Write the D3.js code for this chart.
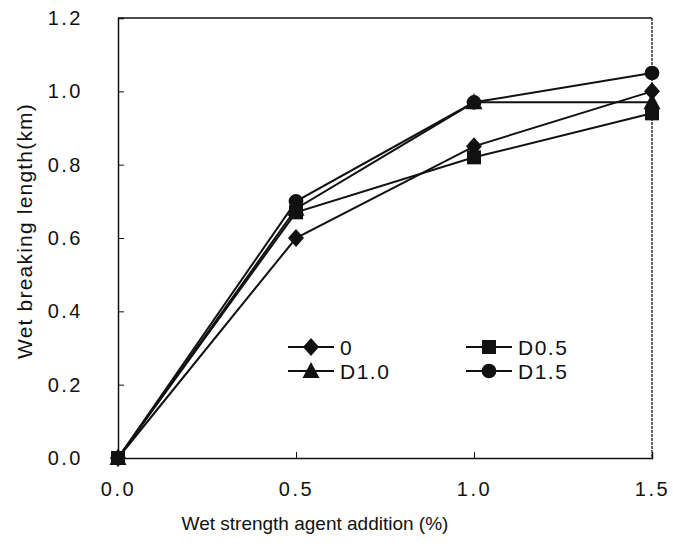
<!DOCTYPE html>
<html><head><meta charset="utf-8">
<script src="https://cdn.jsdelivr.net/npm/d3@7"></script>
<style>body{margin:0;background:#fff}svg{display:block}text{font-family:"Liberation Sans",Arial,sans-serif;fill:#111}</style>
</head><body>
<script>
const xValues = [0, 0.5, 1.0, 1.5];
const seriesNames = ["0", "D0.5", "D1.0", "D1.5"];
const seriesSymbols = ["diamond", "square", "triangle", "circle"];
const s0 = [0, 0.60, 0.85, 1.00];
const sD05 = [0, 0.67, 0.82, 0.94];
const sD10 = [0, 0.68, 0.97, 0.97];
const sD15 = [0, 0.70, 0.97, 1.05];
const seriesValues = [s0, sD05, sD10, sD15];
const xTicks = [0, 0.5, 1.0, 1.5];
const yTicks = [0, 0.2, 0.4, 0.6, 0.8, 1.0, 1.2];

const W = 673, H = 554;
const svg = d3.select("body").append("svg").attr("width", W).attr("height", H);
const x = d3.scaleLinear().domain([0, 1.5]).range([118, 652]);
const y = d3.scaleLinear().domain([0, 1.2]).range([458, 18]);

// frame
svg.append("line").attr("x1",118).attr("x2",652).attr("y1",18).attr("y2",18).attr("stroke","#111").attr("stroke-width",1.5);
svg.append("line").attr("x1",652).attr("x2",652).attr("y1",18).attr("y2",458).attr("stroke","#111").attr("stroke-width",1.3).attr("stroke-dasharray","3,1");

const yAxis = d3.axisLeft(y).tickValues(yTicks).tickFormat(d3.format(".1f")).tickSize(-6).tickPadding(34);
const gy = svg.append("g").attr("transform","translate(118,0)").call(yAxis);
gy.select(".domain").attr("stroke","#111").attr("stroke-width",1.5);
gy.selectAll(".tick line").attr("stroke","#111");
gy.selectAll(".tick text").attr("font-size",20).attr("letter-spacing","2.5px").attr("text-anchor","end").attr("x",-35);

const xAxis = d3.axisBottom(x).tickValues(xTicks).tickFormat(d3.format(".1f")).tickSize(-6).tickPadding(24);
const gx = svg.append("g").attr("transform","translate(0,458)").call(xAxis);
gx.select(".domain").attr("stroke","#111").attr("stroke-width",1.5);
gx.selectAll(".tick line").attr("stroke","#111");
gx.selectAll(".tick text").attr("font-size",20).attr("letter-spacing","2.5px");

svg.append("text").attr("x",315).attr("y",530).attr("text-anchor","middle").attr("font-size",19).text("Wet strength agent addition (%)");
svg.append("text").attr("transform","translate(32,231) rotate(-90)").attr("text-anchor","middle").attr("font-size",21).attr("letter-spacing","1.2px").text("Wet breaking length(km)");

const diamondPath = "M0,-9L8,0L0,9L-8,0Z";
const symPath = {
  diamond: () => diamondPath,
  square: d3.symbol().type(d3.symbolSquare).size(196),
  triangle: () => "M0,-9L8.5,7L-8.5,7Z",
  circle: d3.symbol().type(d3.symbolCircle).size(170)
};
const line = d3.line().x((d,i)=>x(xValues[i])).y(d=>y(d));

seriesValues.forEach((vals) => {
  svg.append("path").attr("d", line(vals)).attr("fill","none").attr("stroke","#111").attr("stroke-width",2);
});
const drawOrder = [2, 3, 0, 1];
drawOrder.forEach(si => {
  const sym = seriesSymbols[si];
  svg.selectAll(null).data(seriesValues[si]).enter().append("path")
    .attr("d", symPath[sym])
    .attr("transform",(d,i)=>`translate(${x(xValues[i])},${y(d)})`)
    .attr("fill","#111");
});

// legend
const legPos = [[288,347],[466,347],[288,371],[466,371]];
seriesNames.forEach((name, si) => {
  const [lx, ly] = legPos[si];
  const sym = seriesSymbols[si];
  svg.append("line").attr("x1",lx).attr("x2",lx+46).attr("y1",ly).attr("y2",ly).attr("stroke","#111").attr("stroke-width",2);
  svg.append("path").attr("d", symPath[sym]).attr("transform",`translate(${lx+23},${ly})`).attr("fill","#111");
  svg.append("text").attr("x",lx+52).attr("y",ly+8).attr("font-size",21).attr("letter-spacing","1.5px").text(name);
});
</script>
</body></html>
